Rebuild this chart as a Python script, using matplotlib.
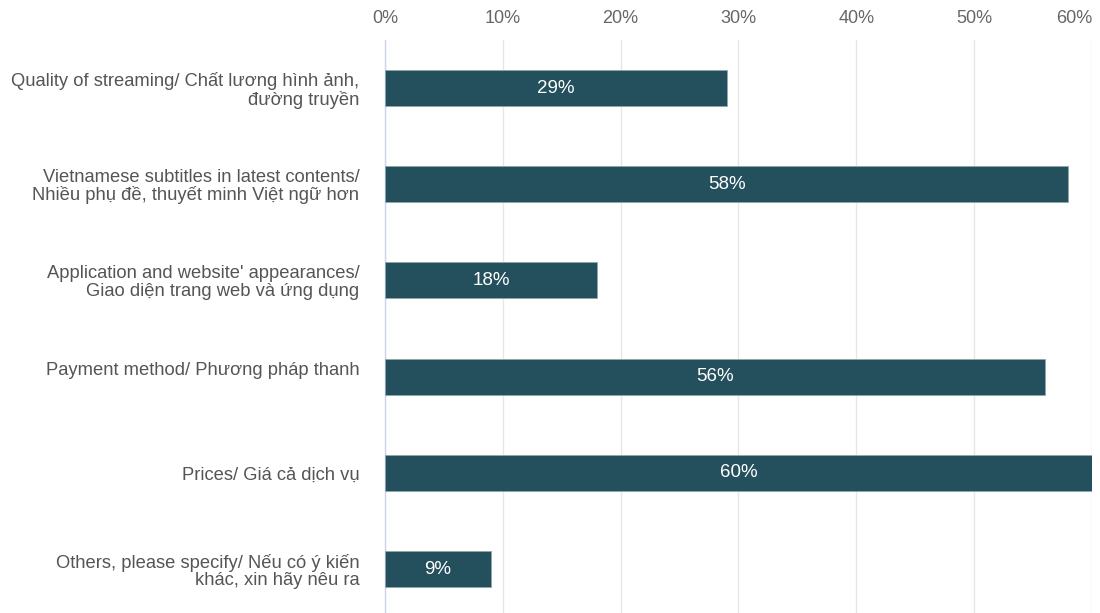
import matplotlib
matplotlib.use("Agg")
import matplotlib.pyplot as plt
from matplotlib.ticker import FuncFormatter

categories = [
    "Quality of streaming/ Chất lương hình ảnh,\nđường truyền",
    "Vietnamese subtitles in latest contents/\nNhiều phụ đề, thuyết minh Việt ngữ hơn",
    "Application and website' appearances/\nGiao diện trang web và ứng dụng",
    "Payment method/ Phương pháp thanh\n ",
    "Prices/ Giá cả dịch vụ",
    "Others, please specify/ Nếu có ý kiến\nkhác, xin hãy nêu ra",
]
values = [29, 58, 18, 56, 60, 9]
ticks = [0, 10, 20, 30, 40, 50, 60]

plt.rcParams['font.family'] = ['Liberation Sans', 'DejaVu Sans']

fig = plt.figure(figsize=(11, 6.13), dpi=100)
ax = fig.add_axes([0.35, 0.0, 0.6427, 0.9347])

bar_color = '#244f5c'
y = list(range(len(categories)))
ax.barh(y, values, height=0.375, color=bar_color, edgecolor='#8fa6ae', linewidth=0.6, zorder=3)
for yi, v in zip(y, values):
    ax.text(v / 2, yi, f"{v}%", ha='center', va='center', color='white', fontsize=13.5, zorder=4)

ax.set_xlim(0, 60)
ax.set_ylim(5.457, -0.499)
ax.set_yticks(y)
ax.set_yticklabels(categories, fontsize=13.2, color='#555555', linespacing=1.04)
ax.set_xticks(ticks)
ax.xaxis.set_major_formatter(FuncFormatter(lambda v, p: f"{int(v)}%"))
ax.xaxis.tick_top()
ax.tick_params(axis='x', length=0, pad=9.5, labelsize=13, labelcolor='#666666')
ax.tick_params(axis='y', length=0, pad=18.5)
ax.grid(axis='x', color='#e6e6e6', linewidth=1, zorder=0)
for s in ['top', 'right', 'bottom']:
    ax.spines[s].set_visible(False)
ax.spines['left'].set_color('#ccd6eb')
ax.spines['left'].set_linewidth(1)

fig.canvas.draw()
last = ax.get_xticklabels()[-1]
last.set_horizontalalignment('right')

fig.savefig("out.png", dpi=100)
